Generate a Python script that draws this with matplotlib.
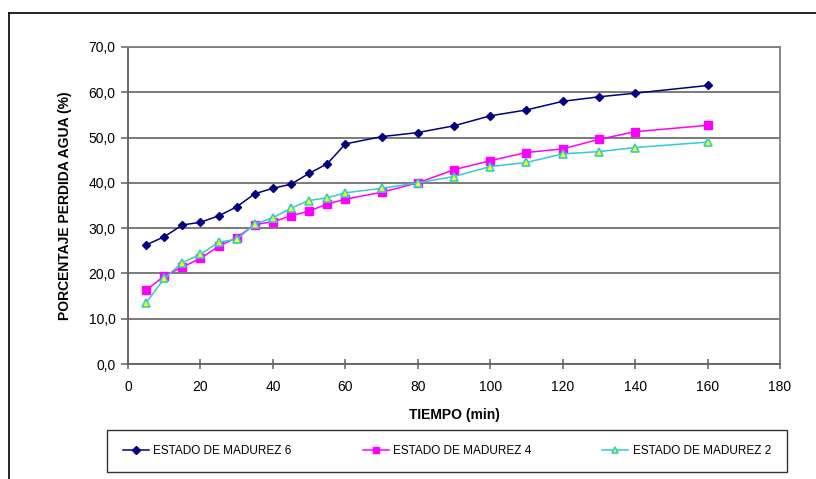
import matplotlib.pyplot as plt
from matplotlib.lines import Line2D
from matplotlib.ticker import FuncFormatter, MultipleLocator

plt.rcParams['font.family'] = ['Liberation Sans', 'DejaVu Sans']

# Tiempo (min)
tiempo = [5, 10, 15, 20, 25, 30, 35, 40, 45, 50, 55, 60, 70, 80, 90, 100, 110, 120, 130, 140, 160]

# Porcentaje perdida agua (%)
madurez_6 = [26.3, 28.1, 30.7, 31.3, 32.7, 34.7, 37.6, 38.8, 39.7, 42.1, 44.2, 48.6,
             50.2, 51.1, 52.6, 54.8, 56.1, 58.0, 59.0, 59.8, 61.5]
madurez_4 = [16.3, 19.4, 21.4, 23.3, 26.0, 27.9, 30.8, 31.4, 32.7, 33.8, 35.3, 36.4,
             37.9, 40.0, 42.9, 44.9, 46.7, 47.5, 49.6, 51.3, 52.7]
madurez_2 = [13.5, 18.9, 22.4, 24.2, 26.9, 27.5, 30.9, 32.3, 34.4, 36.1, 36.7, 37.8,
             38.8, 40.0, 41.4, 43.6, 44.5, 46.4, 46.9, 47.8, 49.0]

etiquetas = ['ESTADO DE MADUREZ 6', 'ESTADO DE MADUREZ 4', 'ESTADO DE MADUREZ 2']

fig = plt.figure(figsize=(8.16, 4.79), dpi=100)
ax = fig.add_axes([128 / 816, 1 - 364 / 479, 652 / 816, 317 / 479])

# marco exterior del grafico (solo arriba e izquierda visibles)
fig.add_artist(Line2D([9 / 816, 1.0], [1 - 13 / 479] * 2, color='black', lw=1.2,
                      transform=fig.transFigure))
fig.add_artist(Line2D([9 / 816] * 2, [0.0, 1 - 13 / 479], color='black', lw=1.2,
                      transform=fig.transFigure))

ax.plot(tiempo, madurez_6, color='#000080', lw=1.1, marker='D', ms=4.5,
        mfc='#000080', mec='#000080', label=etiquetas[0])
ax.plot(tiempo, madurez_4, color='#FF00FF', lw=1.1, marker='s', ms=5.5,
        mfc='#FF00FF', mec='#FF00FF', label=etiquetas[1])
ax.plot(tiempo, madurez_2, color='#33CCCC', lw=1.1, marker='^', ms=6,
        mfc='#FFFF00', mec='#33CCCC', mew=1.2, label=etiquetas[2])

ax.set_xlim(0, 180)
ax.set_ylim(0, 70)
ax.xaxis.set_major_locator(MultipleLocator(20))
ax.yaxis.set_major_locator(MultipleLocator(10))
ax.yaxis.set_major_formatter(FuncFormatter(lambda v, p: f'{v:.1f}'.replace('.', ',')))
ax.grid(axis='y', color='#707070', lw=1.3)
ax.set_axisbelow(True)

for s in ax.spines.values():
    s.set_color('#808080')
    s.set_linewidth(1.3)
ax.spines['left'].set_color('#606060')
ax.spines['bottom'].set_color('#606060')

ax.tick_params(axis='y', direction='out', length=5, width=1.1, color='#606060',
               labelsize=10, pad=4)
ax.tick_params(axis='x', direction='inout', length=7, width=1.1, color='#606060',
               labelsize=10, pad=8)

ax.set_xlabel('TIEMPO (min)', fontsize=10, fontweight='bold', labelpad=10)
ax.set_ylabel('PORCENTAJE PERDIDA AGUA (%)', fontsize=10, fontweight='bold', labelpad=12)

leg = ax.legend(loc='center', bbox_to_anchor=(447 / 816, 1 - 451 / 479),
                bbox_transform=fig.transFigure, ncol=3, fontsize=8.5, frameon=True,
                fancybox=False, edgecolor='black', columnspacing=6.0, handlelength=2.2,
                handletextpad=0.4, borderpad=1.3, borderaxespad=0, markerscale=0.8)
leg.get_frame().set_linewidth(1.0)

fig.savefig('out.png', dpi=100)
